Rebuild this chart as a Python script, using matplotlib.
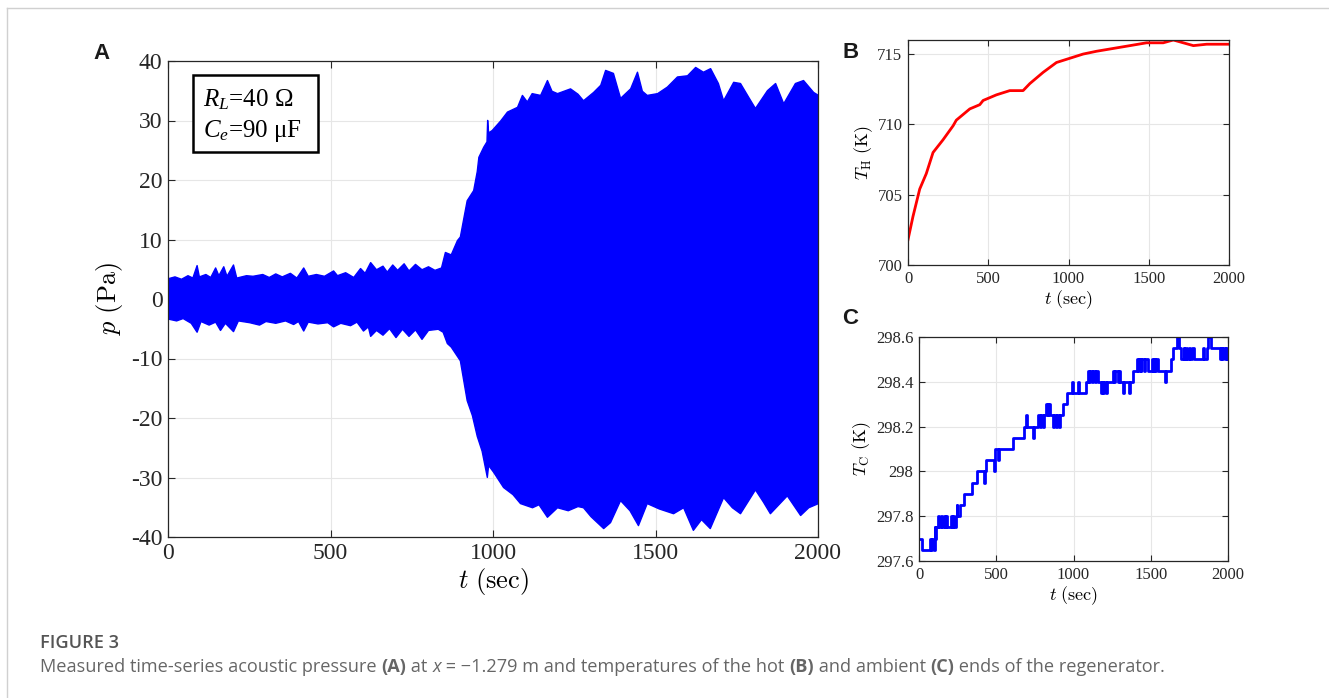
import matplotlib
matplotlib.use("Agg")
import matplotlib.pyplot as plt
from matplotlib.lines import Line2D
from matplotlib.patches import Rectangle

plt.rcParams["font.family"] = "Liberation Serif"
plt.rcParams["mathtext.fontset"] = "cm"
plt.rcParams["axes.unicode_minus"] = False

# ---- panel A: envelope of the measured pressure signal (Pa) ----
t_up = [0, 20, 40, 60, 75, 88, 95, 115, 130, 145, 155, 170, 180, 200, 210, 240, 260, 290,
        310, 330, 350, 375, 395, 416, 430, 455, 480, 508, 520, 545, 570, 591, 605, 622,
        640, 660, 673, 690, 705, 725, 740, 760, 780, 800, 820, 840, 852, 870, 889, 898,
        910, 919, 939, 950, 955, 970, 980, 982, 985, 996, 1022, 1043, 1074, 1089, 1104,
        1119, 1145, 1166, 1180, 1197, 1237, 1260, 1277, 1308, 1330, 1345, 1369, 1391,
        1422, 1443, 1458, 1473, 1505, 1535, 1566, 1597, 1622, 1646, 1668, 1692, 1708,
        1739, 1760, 1785, 1806, 1843, 1868, 1893, 1929, 1954, 1985, 2000]
p_up = [3.5, 3.8, 3.4, 4.0, 3.6, 5.7, 3.8, 4.2, 3.7, 5.3, 4.0, 5.5, 3.9, 5.8, 3.6, 4.0,
        3.9, 4.2, 3.7, 4.3, 3.8, 4.4, 3.6, 5.3, 3.9, 4.2, 3.9, 4.8, 4.0, 4.5, 3.7, 5.2,
        4.4, 6.2, 5.0, 5.6, 4.6, 5.8, 4.9, 6.0, 4.8, 5.9, 5.0, 5.5, 4.9, 5.3, 7.9, 7.5,
        9.9, 10.5, 14.0, 16.6, 18.3, 21.5, 23.9, 25.6, 26.5, 30.1, 28.0, 28.4, 30.0, 31.5,
        32.3, 34.3, 33.2, 34.6, 34.3, 36.8, 35.0, 34.6, 35.4, 34.5, 33.4, 34.8, 36.0,
        38.5, 38.0, 33.8, 35.4, 38.2, 35.0, 34.3, 34.6, 35.7, 37.4, 37.6, 39.0, 38.2,
        38.8, 36.3, 33.4, 36.5, 36.3, 34.0, 32.1, 35.1, 36.3, 32.9, 36.3, 36.8, 34.8, 34.3]

t_lo = [0, 25, 45, 70, 88, 100, 125, 145, 160, 175, 200, 215, 250, 280, 300, 330, 360,
        385, 400, 416, 430, 460, 490, 508, 530, 560, 580, 600, 615, 622, 640, 660, 680,
        700, 720, 740, 760, 780, 800, 830, 845, 858, 870, 898, 919, 935, 950, 965, 981,
        985, 1000, 1031, 1060, 1083, 1120, 1140, 1166, 1197, 1230, 1260, 1277, 1300,
        1339, 1360, 1391, 1420, 1446, 1473, 1510, 1554, 1585, 1615, 1640, 1667, 1708,
        1735, 1760, 1806, 1830, 1852, 1904, 1945, 1970, 2000]
p_lo = [-3.3, -3.6, -3.2, -4.0, -5.5, -3.7, -4.3, -3.8, -5.2, -4.0, -5.4, -3.6, -3.9,
        -4.3, -3.7, -4.0, -3.6, -4.2, -3.7, -5.3, -3.8, -4.1, -3.9, -4.6, -4.0, -4.4,
        -3.8, -5.3, -4.6, -6.2, -5.2, -6.0, -4.9, -6.4, -5.0, -6.2, -5.1, -6.7, -5.2,
        -5.0, -5.5, -7.4, -8.0, -10.3, -17.0, -19.5, -23.0, -25.5, -29.9, -27.9, -29.0,
        -31.6, -32.8, -34.3, -35.0, -34.5, -36.6, -35.0, -35.5, -34.8, -35.0, -36.5,
        -38.5, -37.5, -33.8, -35.5, -38.0, -34.3, -35.2, -36.0, -35.0, -38.8, -37.0,
        -38.5, -33.3, -35.0, -36.0, -32.0, -34.0, -36.0, -33.0, -36.3, -35.0, -34.3]

# ---- panel B: hot-end temperature (K) ----
t_hot = [0, 31, 73, 114, 156, 218, 281, 301, 385, 447, 468, 551, 634, 717, 759, 842, 925,
         1008, 1091, 1175, 1279, 1383, 1486, 1590, 1653, 1715, 1778, 1861, 2000]
T_hot = [701.8, 703.45, 705.4, 706.5, 708.0, 708.9, 709.9, 710.3, 711.1, 711.4, 711.7,
         712.1, 712.4, 712.4, 712.9, 713.7, 714.4, 714.7, 715.0, 715.2, 715.4, 715.6,
         715.8, 715.8, 716.0, 715.8, 715.6, 715.7, 715.7]

# ---- panel C: ambient-end temperature (K), quantised sensor steps ----
t_amb = [0, 22, 69, 78, 85, 95, 101, 104, 110, 123, 128, 140, 146, 160, 166, 175, 180,
         209, 215, 222, 228, 237, 243, 247, 263, 289, 345, 375, 420, 425, 436, 485, 489,
         494, 510, 516, 608, 677, 690, 696, 738, 745, 770, 780, 787, 800, 806, 825, 832,
         838, 850, 867, 873, 885, 893, 905, 912, 931, 957, 990, 997, 1030, 1036, 1083,
         1094, 1100, 1108, 1118, 1126, 1140, 1146, 1160, 1180, 1186, 1192, 1200, 1208,
         1215, 1255, 1262, 1270, 1285, 1292, 1298, 1320, 1328, 1362, 1368, 1386, 1408,
         1416, 1422, 1435, 1440, 1456, 1462, 1483, 1505, 1512, 1518, 1530, 1537, 1548,
         1591, 1598, 1628, 1645, 1672, 1684, 1699, 1712, 1718, 1728, 1735, 1745, 1752,
         1770, 1778, 1790, 1838, 1845, 1861, 1872, 1893, 1947, 1953, 1960, 1970, 1978,
         1985, 1992, 2000]
T_amb = [297.70, 297.65, 297.70, 297.65, 297.70, 297.65, 297.75, 297.70, 297.75, 297.80,
         297.75, 297.80, 297.75, 297.80, 297.75, 297.80, 297.75, 297.80, 297.75, 297.80,
         297.75, 297.80, 297.85, 297.80, 297.85, 297.90, 297.95, 298.00, 297.95, 298.00,
         298.05, 298.00, 298.05, 298.10, 298.05, 298.10, 298.15, 298.20, 298.25, 298.20,
         298.15, 298.20, 298.25, 298.20, 298.25, 298.20, 298.25, 298.30, 298.25, 298.30,
         298.25, 298.20, 298.25, 298.20, 298.25, 298.20, 298.25, 298.30, 298.35, 298.40,
         298.35, 298.40, 298.35, 298.40, 298.45, 298.40, 298.45, 298.40, 298.45, 298.40,
         298.45, 298.40, 298.35, 298.40, 298.35, 298.40, 298.35, 298.40, 298.45, 298.40,
         298.45, 298.40, 298.45, 298.40, 298.35, 298.40, 298.35, 298.40, 298.45, 298.50,
         298.45, 298.50, 298.45, 298.50, 298.45, 298.50, 298.45, 298.50, 298.45, 298.50,
         298.45, 298.50, 298.45, 298.40, 298.45, 298.50, 298.55, 298.60, 298.55, 298.50,
         298.55, 298.50, 298.55, 298.50, 298.55, 298.50, 298.55, 298.50, 298.50, 298.55,
         298.50, 298.55, 298.60, 298.55, 298.50, 298.55, 298.50, 298.55, 298.50, 298.55,
         298.50, 298.50]

t_ticks = [0, 500, 1000, 1500, 2000]

W, H = 1329, 698
fig = plt.figure(figsize=(W / 100, H / 100), dpi=100)


def px(x, y):
    # figure pixel (from top-left) -> figure fraction
    return x / W, 1 - y / H


def style_axes(ax, size):
    ax.tick_params(direction="in", top=True, right=True, labelsize=size,
                   length=5, width=0.8, colors="#262626", pad=4)
    ax.grid(True, color="#e6e6e6", linewidth=0.8)
    ax.set_axisbelow(True)
    for s in ax.spines.values():
        s.set_color("#262626")
        s.set_linewidth(0.9)
    for lbl in ax.get_xticklabels() + ax.get_yticklabels():
        lbl.set_family("Liberation Serif")


# panel A
axA = fig.add_axes([168 / W, 1 - 537 / H, 650 / W, 476 / H])
axA.fill_between(t_up, 0, p_up, color="#0000ff", linewidth=1.0, edgecolor="#0000ff")
axA.fill_between(t_lo, p_lo, 0, color="#0000ff", linewidth=1.0, edgecolor="#0000ff")
axA.set_xlim(0, 2000)
axA.set_ylim(-40, 40)
axA.set_xticks(t_ticks)
axA.set_yticks(range(-40, 41, 10))
style_axes(axA, 17)
axA.set_xlabel(r"$t\ \mathrm{(sec)}$", fontsize=19, labelpad=2)
axA.set_ylabel(r"$p\ \mathrm{(Pa)}$", fontsize=19, labelpad=4)

# parameter box
x0, y0 = px(193, 152)
x1, y1 = px(318, 75)
fig.add_artist(Rectangle((x0, y0), x1 - x0, y1 - y0, transform=fig.transFigure,
                         facecolor="white", edgecolor="black", linewidth=1.8,
                         zorder=5))
for yb, s in [(106, "$R_L$=40 Ω"), (137, "$C_e$=90 μF")]:
    fig.text(*px(203, yb), s, fontsize=18, va="baseline", math_fontfamily="custom",
             zorder=6)

# panel B
axB = fig.add_axes([908 / W, 1 - 265 / H, 321 / W, 225 / H])
axB.plot(t_hot, T_hot, color="#ff0000", linewidth=2.0)
axB.set_xlim(0, 2000)
axB.set_ylim(700, 716)
axB.set_xticks(t_ticks)
axB.set_yticks([700, 705, 710, 715])
style_axes(axB, 12)
axB.tick_params(length=4)
axB.set_xlabel(r"$t\ \mathrm{(sec)}$", fontsize=13, labelpad=1)
axB.set_ylabel(r"$T_\mathrm{H}\ \mathrm{(K)}$", fontsize=13, labelpad=2)

# panel C
axC = fig.add_axes([919 / W, 1 - 561 / H, 309 / W, 224 / H])
axC.plot(t_amb, T_amb, color="#0000ff", linewidth=2.0, drawstyle="steps-post")
axC.set_xlim(0, 2000)
axC.set_ylim(297.6, 298.6)
axC.set_xticks(t_ticks)
axC.set_yticks([297.6, 297.8, 298.0, 298.2, 298.4, 298.6])
axC.set_yticklabels(["297.6", "297.8", "298", "298.2", "298.4", "298.6"])
style_axes(axC, 12)
axC.tick_params(length=4)
axC.set_xlabel(r"$t\ \mathrm{(sec)}$", fontsize=13, labelpad=1)
axC.set_ylabel(r"$T_\mathrm{C}\ \mathrm{(K)}$", fontsize=13, labelpad=2)

plt.rcParams["mathtext.rm"] = "Liberation Serif"
plt.rcParams["mathtext.it"] = "Liberation Serif:italic"

# panel letters
for x, y, s in [(93, 59, "A"), (842, 58, "B"), (842, 324, "C")]:
    fig.text(*px(x, y), s, family="Liberation Sans", weight="bold",
             fontsize=16, color="#1a1a1a")

# page frame lines
fig.add_artist(Line2D([7 / W, 7 / W], [0, 1 - 8 / H], color="#d0d0d0", linewidth=1))
fig.add_artist(Line2D([7 / W, 1], [1 - 8 / H, 1 - 8 / H], color="#d0d0d0", linewidth=1))

# caption
fig.text(*px(40, 648), "FIGURE 3", family="Open Sans", fontsize=13.1, weight="semibold",
         color="#555555", va="baseline")

renderer = fig.canvas.get_renderer()


def piece_width(s, **kw):
    a = fig.text(0, 0, "|" + s + "|", **kw)
    b = fig.text(0, 0, "||", **kw)
    w = a.get_window_extent(renderer).width - b.get_window_extent(renderer).width
    a.remove()
    b.remove()
    return w


parts = [("Measured time-series acoustic pressure ", "normal", "normal"),
         ("(A)", "bold", "normal"), (" at ", "normal", "normal"),
         ("x", "normal", "italic"),
         (" = \u22121.279 m and temperatures of the hot ", "normal", "normal"),
         ("(B)", "bold", "normal"), (" and ambient ", "normal", "normal"),
         ("(C)", "bold", "normal"), (" ends of the regenerator.", "normal", "normal")]
x = 40.0
for s, wt, st in parts:
    kw = dict(family="Open Sans", fontsize=13.1, color="#666666", weight=wt, style=st)
    fig.text(*px(x, 672), s, va="baseline", **kw)
    x += piece_width(s, **kw)

fig.savefig("out.png", dpi=100)
